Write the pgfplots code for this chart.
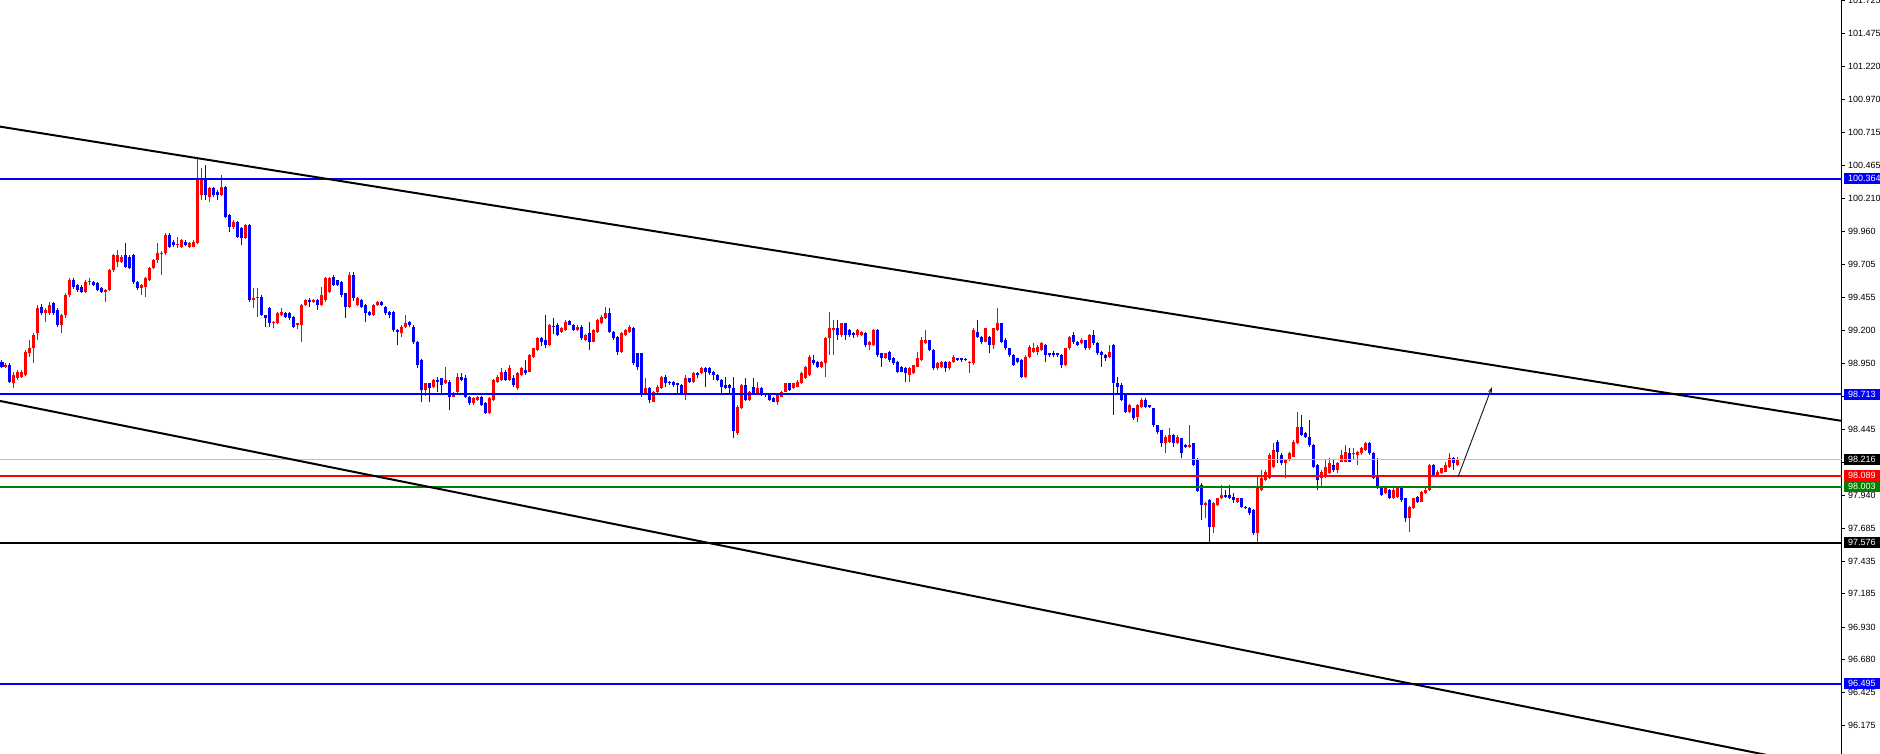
\documentclass[border=0pt]{standalone}
\usepackage{fontspec}
\setmainfont{Liberation Sans}
\usepackage{pgfplots}
\usepackage{pgfplotstable}
\pgfplotsset{compat=1.18}
\usetikzlibrary{arrows.meta}
\definecolor{mtblue}{RGB}{0,0,255}
\definecolor{mtred}{RGB}{255,0,0}
\definecolor{mtgreen}{RGB}{0,128,0}
\definecolor{mtgray}{RGB}{192,192,192}

\pgfplotstableread{
i o h l c
0 98.962 98.975 98.911 98.924
1 98.924 98.949 98.911 98.936
2 98.936 98.949 98.796 98.809
3 98.796 98.885 98.758 98.860
4 98.834 98.900 98.820 98.885
5 98.847 98.895 98.834 98.885
6 98.860 99.050 98.850 99.039
7 99.026 99.128 99.000 99.064
8 99.064 99.180 98.949 99.166
9 99.179 99.396 99.128 99.370
10 99.383 99.400 99.320 99.332
11 99.332 99.370 99.268 99.358
12 99.332 99.421 99.320 99.396
13 99.409 99.420 99.320 99.332
14 99.358 99.370 99.230 99.243
15 99.243 99.330 99.179 99.319
16 99.319 99.490 99.300 99.473
17 99.473 99.600 99.460 99.587
18 99.587 99.600 99.520 99.536
19 99.549 99.560 99.498 99.511
20 99.536 99.550 99.490 99.498
21 99.498 99.585 99.490 99.575
22 99.575 99.600 99.549 99.577
23 99.575 99.580 99.540 99.549
24 99.562 99.570 99.500 99.511
25 99.524 99.530 99.490 99.498
26 99.498 99.520 99.421 99.511
27 99.511 99.670 99.500 99.664
28 99.664 99.790 99.650 99.779
29 99.728 99.817 99.690 99.779
30 99.728 99.780 99.720 99.766
31 99.779 99.868 99.680 99.690
32 99.766 99.780 99.670 99.677
33 99.779 99.790 99.560 99.575
34 99.575 99.580 99.510 99.524
35 99.524 99.560 99.473 99.549
36 99.536 99.610 99.460 99.600
37 99.587 99.690 99.580 99.677
38 99.677 99.750 99.670 99.741
39 99.741 99.873 99.715 99.792
40 99.787 99.810 99.626 99.797
41 99.792 99.945 99.780 99.932
42 99.932 99.945 99.830 99.843
43 99.881 99.890 99.840 99.855
44 99.862 99.919 99.830 99.864
45 99.843 99.900 99.830 99.894
46 99.881 99.890 99.845 99.855
47 99.843 99.875 99.835 99.868
48 99.843 99.890 99.840 99.881
49 99.873 100.519 99.860 100.366
50 100.238 100.443 100.200 100.366
51 100.366 100.468 100.200 100.238
52 100.226 100.300 100.187 100.289
53 100.289 100.300 100.220 100.238
54 100.264 100.280 100.200 100.238
55 100.238 100.392 100.230 100.302
56 100.302 100.310 100.060 100.072
57 100.085 100.090 99.958 99.996
58 99.996 100.045 99.980 100.034
59 100.034 100.040 99.910 99.919
60 99.983 99.990 99.855 99.906
61 99.906 100.020 99.900 100.009
62 100.009 100.015 99.420 99.434
63 99.434 99.524 99.370 99.447
64 99.447 99.524 99.307 99.460
65 99.460 99.470 99.310 99.319
66 99.319 99.320 99.230 99.294
67 99.370 99.383 99.230 99.255
68 99.255 99.270 99.217 99.268
69 99.255 99.340 99.250 99.332
70 99.319 99.370 99.310 99.345
71 99.332 99.340 99.300 99.307
72 99.332 99.345 99.280 99.294
73 99.307 99.310 99.217 99.230
74 99.243 99.260 99.210 99.255
75 99.243 99.400 99.115 99.396
76 99.396 99.440 99.390 99.434
77 99.434 99.447 99.383 99.421
78 99.421 99.440 99.410 99.434
79 99.434 99.440 99.358 99.396
80 99.396 99.536 99.390 99.473
81 99.434 99.610 99.420 99.600
82 99.498 99.610 99.490 99.600
83 99.613 99.626 99.540 99.549
84 99.587 99.590 99.540 99.549
85 99.575 99.580 99.460 99.473
86 99.485 99.490 99.294 99.383
87 99.383 99.651 99.370 99.626
88 99.626 99.651 99.430 99.447
89 99.396 99.460 99.390 99.447
90 99.434 99.440 99.370 99.383
91 99.396 99.400 99.268 99.332
92 99.345 99.350 99.310 99.319
93 99.319 99.400 99.310 99.396
94 99.396 99.430 99.390 99.421
95 99.421 99.430 99.390 99.396
96 99.383 99.390 99.320 99.332
97 99.345 99.350 99.294 99.319
98 99.345 99.350 99.190 99.204
99 99.204 99.210 99.090 99.192
100 99.179 99.240 99.150 99.230
101 99.230 99.319 99.220 99.255
102 99.268 99.270 99.230 99.243
103 99.230 99.240 99.100 99.115
104 99.115 99.120 98.911 98.936
105 98.975 98.980 98.656 98.745
106 98.745 98.800 98.700 98.796
107 98.796 98.800 98.656 98.758
108 98.771 98.830 98.760 98.822
109 98.822 98.848 98.733 98.809
110 98.835 98.840 98.707 98.784
111 98.796 98.924 98.790 98.822
112 98.809 98.820 98.592 98.694
113 98.694 98.730 98.690 98.720
114 98.733 98.873 98.720 98.848
115 98.848 98.873 98.810 98.822
116 98.835 98.860 98.680 98.694
117 98.694 98.700 98.630 98.643
118 98.643 98.690 98.630 98.682
119 98.669 98.700 98.660 98.694
120 98.694 98.700 98.625 98.630
121 98.643 98.650 98.560 98.567
122 98.567 98.690 98.560 98.682
123 98.669 98.830 98.660 98.822
124 98.809 98.860 98.800 98.848
125 98.822 98.911 98.815 98.886
126 98.886 98.900 98.815 98.822
127 98.822 98.937 98.815 98.911
128 98.835 98.860 98.770 98.784
129 98.758 98.880 98.745 98.873
130 98.860 98.920 98.850 98.911
131 98.899 98.975 98.860 98.873
132 98.886 99.020 98.880 99.013
133 99.001 99.070 98.990 99.065
134 99.052 99.150 99.040 99.141
135 99.141 99.150 99.080 99.116
136 99.128 99.320 99.070 99.090
137 99.090 99.250 99.080 99.243
138 99.238 99.294 99.170 99.230
139 99.243 99.256 99.160 99.167
140 99.192 99.230 99.180 99.218
141 99.205 99.280 99.200 99.269
142 99.274 99.280 99.240 99.243
143 99.243 99.250 99.200 99.205
144 99.205 99.240 99.200 99.230
145 99.230 99.240 99.130 99.141
146 99.128 99.170 99.120 99.167
147 99.179 99.269 99.052 99.116
148 99.116 99.210 99.110 99.205
149 99.192 99.290 99.180 99.281
150 99.256 99.320 99.250 99.307
151 99.294 99.384 99.290 99.333
152 99.333 99.371 99.180 99.192
153 99.192 99.200 99.130 99.141
154 99.154 99.160 99.013 99.039
155 99.039 99.190 99.030 99.179
156 99.167 99.210 99.160 99.205
157 99.192 99.240 99.180 99.230
158 99.218 99.230 98.937 98.950
159 99.026 99.030 98.900 98.924
160 99.026 99.030 98.694 98.720
161 98.720 98.835 98.710 98.758
162 98.758 98.770 98.643 98.669
163 98.656 98.740 98.650 98.733
164 98.733 98.780 98.720 98.771
165 98.758 98.850 98.750 98.848
166 98.848 98.860 98.771 98.796
167 98.809 98.810 98.784 98.796
168 98.809 98.810 98.770 98.784
169 98.796 98.800 98.720 98.784
170 98.784 98.790 98.710 98.720
171 98.720 98.860 98.669 98.835
172 98.835 98.840 98.800 98.809
173 98.809 98.880 98.800 98.873
174 98.873 98.886 98.835 98.860
175 98.873 98.924 98.870 98.911
176 98.911 98.920 98.771 98.886
177 98.911 98.920 98.860 98.873
178 98.886 98.890 98.822 98.860
179 98.860 98.865 98.810 98.822
180 98.822 98.830 98.707 98.771
181 98.784 98.848 98.750 98.758
182 98.784 98.790 98.720 98.758
183 98.758 98.848 98.376 98.427
184 98.414 98.630 98.400 98.618
185 98.605 98.790 98.600 98.784
186 98.784 98.835 98.660 98.669
187 98.669 98.740 98.660 98.733
188 98.771 98.835 98.710 98.720
189 98.720 98.809 98.710 98.758
190 98.758 98.770 98.700 98.707
191 98.714 98.720 98.690 98.707
192 98.720 98.725 98.660 98.669
193 98.682 98.690 98.650 98.656
194 98.656 98.710 98.630 98.707
195 98.694 98.740 98.690 98.733
196 98.733 98.800 98.730 98.796
197 98.796 98.800 98.740 98.745
198 98.758 98.800 98.750 98.796
199 98.771 98.820 98.765 98.809
200 98.796 98.880 98.790 98.873
201 98.835 98.930 98.830 98.924
202 98.860 99.010 98.855 99.001
203 98.975 99.013 98.940 98.950
204 98.962 98.970 98.910 98.924
205 98.924 98.970 98.910 98.962
206 98.949 99.150 98.847 99.141
207 99.141 99.345 99.013 99.217
208 99.205 99.281 99.013 99.217
209 99.217 99.281 99.128 99.166
210 99.166 99.260 99.154 99.256
211 99.256 99.260 99.128 99.166
212 99.205 99.210 99.154 99.166
213 99.179 99.190 99.141 99.166
214 99.166 99.210 99.154 99.205
215 99.166 99.200 99.160 99.192
216 99.179 99.190 99.077 99.090
217 99.090 99.120 99.052 99.115
218 99.090 99.210 99.085 99.205
219 99.205 99.210 99.000 99.013
220 99.026 99.030 98.924 98.988
221 98.988 99.030 98.980 99.026
222 99.039 99.040 98.960 98.975
223 98.988 99.000 98.940 98.949
224 98.962 98.970 98.873 98.886
225 98.924 98.930 98.880 98.886
226 98.911 98.920 98.809 98.873
227 98.860 98.920 98.809 98.911
228 98.873 98.940 98.870 98.937
229 98.924 99.039 98.920 98.988
230 98.975 99.154 98.970 99.128
231 99.103 99.205 99.100 99.128
232 99.128 99.130 99.040 99.052
233 99.052 99.060 98.900 98.911
234 98.911 98.960 98.900 98.949
235 98.924 98.970 98.911 98.962
236 98.962 98.970 98.886 98.911
237 98.911 98.970 98.900 98.962
238 98.962 99.010 98.950 99.000
239 98.988 98.990 98.970 98.975
240 98.988 98.990 98.960 98.975
241 98.982 98.990 98.970 98.975
242 98.955 98.970 98.873 98.962
243 98.949 99.217 98.940 99.205
244 99.192 99.281 99.140 99.154
245 99.154 99.160 99.100 99.115
246 99.115 99.220 99.110 99.217
247 99.154 99.160 99.026 99.090
248 99.090 99.220 99.060 99.217
249 99.205 99.371 99.200 99.256
250 99.256 99.260 99.103 99.115
251 99.128 99.140 99.055 99.064
252 99.064 99.070 99.000 99.013
253 99.013 99.020 98.930 98.937
254 98.988 98.990 98.950 98.962
255 98.975 98.980 98.834 98.847
256 98.847 99.010 98.834 99.000
257 99.000 99.090 98.990 99.077
258 99.039 99.103 99.030 99.064
259 99.039 99.090 99.013 99.077
260 99.052 99.115 99.040 99.103
261 99.090 99.100 98.962 99.013
262 99.026 99.030 99.000 99.013
263 99.026 99.040 99.000 99.013
264 99.026 99.030 99.000 99.013
265 99.013 99.020 98.911 98.937
266 98.937 99.070 98.930 99.064
267 99.064 99.160 99.050 99.154
268 99.166 99.192 99.100 99.115
269 99.115 99.120 99.080 99.090
270 99.103 99.141 99.100 99.128
271 99.128 99.130 99.050 99.064
272 99.064 99.170 99.050 99.166
273 99.166 99.205 99.090 99.103
274 99.103 99.110 99.013 99.026
275 99.039 99.040 98.924 99.013
276 99.013 99.020 98.970 98.988
277 99.000 99.090 98.990 99.039
278 99.090 99.100 98.554 98.796
279 98.796 98.847 98.720 98.771
280 98.783 98.800 98.660 98.669
281 98.707 98.710 98.570 98.580
282 98.580 98.640 98.570 98.630
283 98.605 98.610 98.515 98.528
284 98.541 98.640 98.502 98.630
285 98.617 98.680 98.610 98.669
286 98.669 98.680 98.610 98.617
287 98.630 98.630 98.605 98.617
288 98.605 98.610 98.460 98.477
289 98.477 98.480 98.410 98.426
290 98.439 98.440 98.311 98.337
291 98.337 98.400 98.260 98.388
292 98.350 98.452 98.340 98.401
293 98.401 98.410 98.311 98.337
294 98.337 98.400 98.330 98.388
295 98.375 98.380 98.222 98.260
296 98.324 98.330 98.300 98.311
297 98.311 98.477 98.300 98.324
298 98.337 98.340 98.160 98.171
299 98.205 98.222 97.967 97.970
300 98.018 98.030 97.750 97.865
301 97.865 97.890 97.763 97.878
302 97.903 97.910 97.584 97.699
303 97.699 97.890 97.648 97.878
304 97.865 97.920 97.860 97.916
305 97.916 98.018 97.910 97.941
306 97.941 97.980 97.920 97.929
307 97.941 98.018 97.910 97.916
308 97.929 97.954 97.878 97.903
309 97.890 97.920 97.880 97.916
310 97.916 97.920 97.840 97.852
311 97.852 97.860 97.830 97.839
312 97.839 97.845 97.790 97.801
313 97.827 97.830 97.635 97.648
314 97.648 98.094 97.584 97.992
315 97.980 98.133 97.970 98.069
316 98.056 98.133 98.050 98.120
317 98.069 98.260 98.060 98.248
318 98.158 98.337 98.150 98.286
319 98.350 98.363 98.184 98.273
320 98.248 98.260 98.170 98.184
321 98.184 98.220 98.069 98.209
322 98.209 98.270 98.200 98.260
323 98.235 98.360 98.230 98.350
324 98.337 98.580 98.330 98.465
325 98.465 98.554 98.390 98.401
326 98.414 98.420 98.380 98.388
327 98.388 98.516 98.310 98.324
328 98.324 98.330 98.150 98.158
329 98.171 98.180 97.980 98.056
330 98.069 98.130 98.005 98.120
331 98.082 98.209 98.070 98.158
332 98.107 98.222 98.100 98.184
333 98.171 98.209 98.120 98.133
334 98.133 98.190 98.107 98.184
335 98.197 98.286 98.190 98.248
336 98.197 98.324 98.190 98.273
337 98.260 98.299 98.190 98.197
338 98.262 98.299 98.209 98.264
339 98.248 98.280 98.171 98.273
340 98.260 98.310 98.250 98.299
341 98.286 98.350 98.280 98.337
342 98.337 98.345 98.250 98.260
343 98.260 98.270 98.060 98.069
344 98.082 98.222 97.990 98.005
345 98.005 98.010 97.930 97.941
346 97.954 98.005 97.950 97.992
347 97.980 97.990 97.910 97.916
348 97.916 98.005 97.910 97.980
349 97.928 98.000 97.920 97.992
350 97.992 98.000 97.890 97.903
351 97.916 97.920 97.737 97.763
352 97.763 97.860 97.660 97.852
353 97.839 97.920 97.830 97.916
354 97.928 97.935 97.880 97.890
355 97.890 97.970 97.885 97.967
356 97.954 98.005 97.950 97.980
357 97.980 98.180 97.975 98.171
358 98.171 98.180 98.085 98.094
359 98.094 98.130 98.085 98.120
360 98.107 98.150 98.100 98.145
361 98.120 98.197 98.115 98.171
362 98.158 98.260 98.150 98.222
363 98.222 98.230 98.133 98.184
364 98.171 98.230 98.165 98.216
}\candles

\pgfplotsset{
  candle/.style n args={2}{draw=none, mark=none, mark size=0pt,
    mark options={draw=none, fill=none}, forget plot,
    error bars/.cd, y dir=plus, y explicit, error mark=none,
    error bar style={draw=#1, line width=#2, solid}},
}

\begin{document}
\begin{tikzpicture}
\begin{axis}[
  at={(0pt,0pt)}, anchor=south west,
  scale only axis, width=1842pt, height=754pt,
  xmin=-0.5, xmax=460, ymin=95.957, ymax=101.732,
  axis x line=none, axis y line*=right,
  axis line style={line width=1pt, black},
  xtick=\empty,
  ytick={96.175,96.425,96.680,96.930,97.185,97.435,97.685,97.940,98.190,98.445,98.695,98.950,99.200,99.455,99.705,99.960,100.210,100.465,100.715,100.970,101.220,101.475,101.725},
  yticklabels={96.175,96.425,96.680,96.930,97.185,97.435,97.685,97.940,98.190,98.445,98.695,98.950,99.200,99.455,99.705,99.960,100.210,100.465,100.715,100.970,101.220,101.475,101.725},
  tick align=outside, major tick length=3pt,
  tick style={black, line width=0.8pt},
  yticklabel style={font=\fontsize{9}{10}\selectfont, anchor=west, inner sep=0pt, xshift=3pt},
  clip=true,
]
% wicks up
\addplot[restrict expr to domain={\thisrow{c}-\thisrow{o}}{0:100},
  candle={mtred}{1pt}]
  table[x=i, y=l, y error expr=\thisrow{h}-\thisrow{l}] {\candles};
% wicks down
\addplot[restrict expr to domain={\thisrow{c}-\thisrow{o}}{-100:-0.0001},
  candle={mtblue}{1pt}]
  table[x=i, y=l, y error expr=\thisrow{h}-\thisrow{l}] {\candles};
% bodies up
\addplot[restrict expr to domain={\thisrow{c}-\thisrow{o}}{0:100},
  candle={mtred}{3pt}]
  table[x=i, y=o, y error expr=\thisrow{c}-\thisrow{o}] {\candles};
% bodies down
\addplot[restrict expr to domain={\thisrow{c}-\thisrow{o}}{-100:-0.0001},
  candle={mtblue}{3pt}]
  table[x=i, y=c, y error expr=\thisrow{o}-\thisrow{c}] {\candles};

% horizontal levels
\addplot[mtgray, line width=1pt] coordinates {(-0.5,98.216) (460,98.216)};
\addplot[mtblue, line width=2pt] coordinates {(-0.5,100.364) (460,100.364)};
\addplot[mtblue, line width=2pt] coordinates {(-0.5,98.713) (460,98.713)};
\addplot[mtblue, line width=2pt] coordinates {(-0.5,96.495) (460,96.495)};
\addplot[mtred, line width=2pt] coordinates {(-0.5,98.089) (460,98.089)};
\addplot[mtgreen, line width=2pt] coordinates {(-0.5,98.003) (460,98.003)};
\addplot[black, line width=2pt] coordinates {(-0.5,97.576) (460,97.576)};
% channel lines
\addplot[black, line width=2pt] coordinates {(-0.5,100.762) (460,98.508)};
\addplot[black, line width=2pt] coordinates {(-0.5,98.661) (460,95.834)};
% projection arrow
\addplot[black!85, line width=1pt, -{Stealth[length=6pt,width=4pt]}] coordinates {(364,98.079) (372.5,98.768)};

\coordinate (b1) at (axis cs:460,100.364);
\coordinate (b2) at (axis cs:460,98.713);
\coordinate (b3) at (axis cs:460,98.216);
\coordinate (b4) at (axis cs:460,98.089);
\coordinate (b5) at (axis cs:460,98.003);
\coordinate (b6) at (axis cs:460,97.576);
\coordinate (b7) at (axis cs:460,96.495);
\end{axis}
\foreach \c/\col/\t in {b1/mtblue/100.364, b2/mtblue/98.713, b3/black/98.216, b4/mtred/98.089, b5/mtgreen/98.003, b6/black/97.576, b7/mtblue/96.495}{
  \fill[\col] (\c) ++(2pt,-5.5pt) rectangle ++(40pt,11pt);
  \node[anchor=west, text=white, font=\fontsize{9}{10}\selectfont, inner sep=0pt] at ([xshift=6pt]\c) {\t};
}
\pgfresetboundingbox
\path (0pt,0pt) rectangle (1880pt,754pt);
\end{tikzpicture}
\end{document}
